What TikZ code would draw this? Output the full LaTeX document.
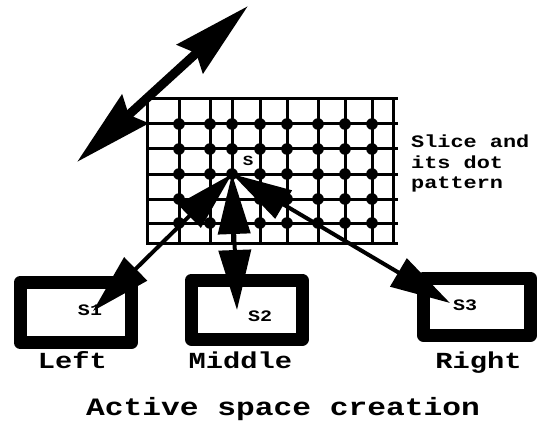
\documentclass[tikz,border=0pt]{standalone}
\usepackage{fontspec}
\newfontfamily\courfont[FakeStretch=1.25]{Liberation Mono}
\usetikzlibrary{arrows.meta}
\tikzstyle{gridline} = [line width=3pt, line cap=rect]
\tikzstyle{frame} = [rectangle, draw=black, fill=white, line width=13pt, line join=round, inner sep=0pt]
\tikzstyle{tag} = [font=\courfont\bfseries\fontsize{23}{23}\selectfont, inner sep=0pt, anchor=base]
\tikzstyle{small} = [font=\courfont\bfseries\fontsize{16}{16}\selectfont, inner sep=0pt, anchor=base]
\tikzstyle{note} = [font=\courfont\bfseries\fontsize{17.5}{20.5}\selectfont, inner sep=0pt, align=left, anchor=north west]
\tikzstyle{arrow} = [line width=4pt, {Triangle[length=60pt,width=32pt]}-{Triangle[length=60pt,width=32pt]}]
\tikzstyle{bigarrow} = [line width=9pt, {Stealth[length=78pt,width=38pt,inset=8pt]}-{Stealth[length=78pt,width=38pt,inset=8pt]}]
\begin{document}
\begin{tikzpicture}[x=1pt, y=-1pt]
\useasboundingbox (0,0) rectangle (537,422);

% slice grid
\foreach \x in {147,179,210,232,260,287,318,345,372,393}
  \draw [gridline] (\x,99) -- (\x,243);
\foreach \y in {99,124,149,174,199,223,243}
  \draw [gridline] (147,\y) -- (396,\y);

% dot pattern
\foreach \x in {179,210,232,260,287,318,345,372}
  \foreach \y in {124,149,174,199,223}
    \fill (\x,\y) circle (5.8pt);

\coordinate (s) at (232,174);
\node (S) [small, font=\courfont\bfseries\fontsize{14}{14}\selectfont] at (248,165) {S};
\node (slice) [note] at (411,135) {Slice and\\its dot\\pattern};

% the three active spaces
\node (left) [frame, minimum width=111.5pt, minimum height=60pt] at (75.75,312.5) {};
\node (middle) [frame, minimum width=110.5pt, minimum height=59.5pt] at (246.75,309.75) {};
\node (right) [frame, minimum width=106.5pt, minimum height=57.5pt] at (477,306.75) {};

\node (s1) [small] at (90,315) {S1};
\node (s2) [small] at (260,321) {S2};
\node (s3) [small] at (465,310) {S3};

\node (lefttag) [tag] at (72.5,368) {Left};
\node (middletag) [tag] at (240.5,368) {Middle};
\node (righttag) [tag] at (478.5,368) {Right};
\node (title) [tag, font=\courfont\bfseries\fontsize{25}{25}\selectfont] at (283,415) {Active space creation};

\coordinate (t1) at (93,311);
\coordinate (t2) at (237,310);
\coordinate (t3) at (450,303);
\coordinate (a) at (77,162);
\coordinate (b) at (248,6);

\draw [arrow] (s) -- (t1);
\draw [arrow] (s) -- (t2);
\draw [arrow] (s) -- (t3);
\draw [bigarrow] (a) -- (b);

\end{tikzpicture}
\end{document}
